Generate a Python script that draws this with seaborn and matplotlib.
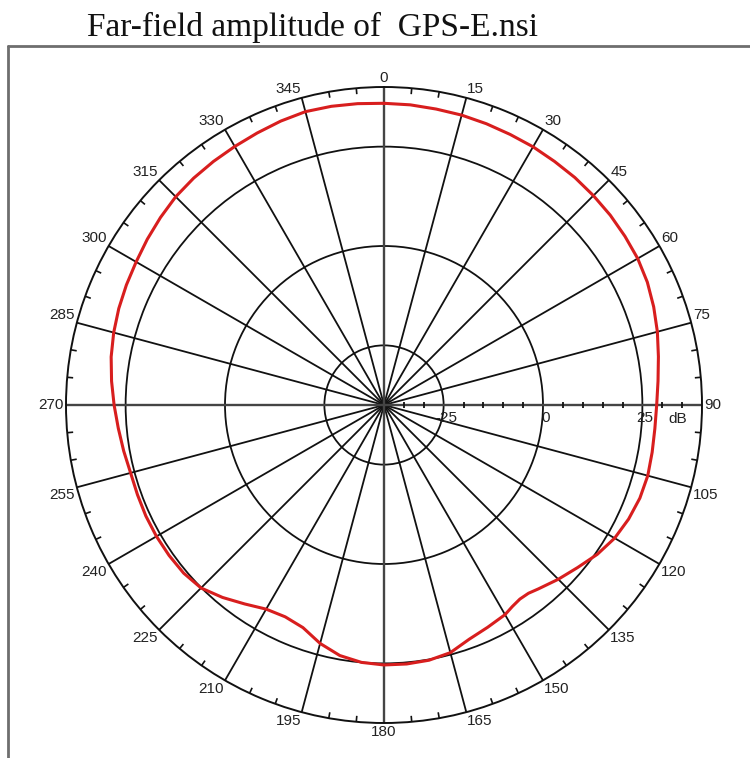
import numpy as np
import pandas as pd
import matplotlib
matplotlib.use("Agg")
import matplotlib.pyplot as plt
from matplotlib.lines import Line2D
import seaborn as sns

# Far-field amplitude (dB) versus azimuth angle (deg, clockwise from top)
angle_deg = [0, 5, 10, 15, 20, 25, 30, 35, 40, 45, 50, 55, 60, 65, 70, 75,
             80, 85, 90, 95, 100, 105, 110, 115, 120, 125, 130, 135, 140,
             142.5, 145, 147.5, 150, 155, 160, 165, 170, 175, 180, 185, 190,
             195, 200, 205, 210, 215, 220, 225, 230, 235, 240, 245, 250, 255,
             260, 265, 270, 275, 280, 285, 290, 295, 300, 305, 310, 315, 320,
             325, 330, 335, 340, 345, 350, 355, 360]
amplitude_db = [35.9, 35.8, 35.6, 35.5, 35.3, 35.1, 35.0, 34.8, 34.7, 34.5,
                34.3, 34.0, 33.7, 33.1, 32.2, 31.2, 30.1, 29.2, 28.6, 28.4,
                28.5, 28.7, 28.5, 27.9, 27.0, 25.5, 23.6, 22.0, 20.4,
                19.7, 19.6, 20.1, 20.9, 21.7, 22.7, 24.5, 25.2, 25.4, 25.4,
                25.0, 24.0, 22.1, 19.6, 18.8, 19.3, 21.1, 23.2, 25.1, 25.8,
                26.0, 26.1, 26.1, 26.0, 26.0, 26.5, 27.1, 27.9, 28.8, 29.7,
                30.4, 31.0, 31.5, 32.0, 32.7, 33.4, 34.1, 34.5, 34.8, 35.1,
                35.5, 36.0, 36.4, 36.3, 36.1, 35.9]

# Axis scales and labels
r_min, r_max = -40, 40
ring_levels = [-25, 0, 25]
ring_labels = ["-25", "0", "25"]
spoke_angles = list(range(0, 360, 15))
spoke_labels = [str(a) for a in spoke_angles]
minor_angles = [a for a in range(0, 360, 5) if a % 15 != 0]
radial_ticks = [v for v in range(-35, 40, 5) if v not in ring_levels]
title_text = "Far-field amplitude of  GPS-E.nsi"

sns.set_style("white")
plt.rcParams["font.family"] = ["Liberation Sans", "DejaVu Sans"]

W, H = 750, 758
fig = plt.figure(figsize=(W / 100, H / 100), dpi=100)

cx, cy, R = 384, 405, 318
ax = fig.add_axes([(cx - R) / W, (H - cy - R) / H, 2 * R / W, 2 * R / H],
                  projection="polar")
ax.set_theta_zero_location("N")
ax.set_theta_direction(-1)
ax.set_ylim(r_min, r_max)
ax.set_facecolor("white")

# Grid: spokes every 15 degrees, rings at the dB levels
ax.set_thetagrids(spoke_angles, labels=[])
ax.set_rgrids(ring_levels, labels=[])
ax.grid(True, color="#111111", linewidth=1.3)
ax.spines["polar"].set_color("#111111")
ax.spines["polar"].set_linewidth(1.4)
ax.tick_params(axis="both", length=0)

# Main axes through the centre
for a in (0, 90, 180, 270):
    ax.plot([np.deg2rad(a)] * 2, [r_min, r_max], color="#444444", lw=1.7,
            zorder=2)

# Minor angle ticks on the outer ring, pointing inward
ax.vlines(np.deg2rad(minor_angles), r_max - 1.5, r_max, color="#111111",
          lw=1.2)

# Minor dB ticks along the 90 degree axis
ax.plot(np.full(len(radial_ticks), np.pi / 2), radial_ticks, ls="none",
        marker="|", ms=4.5, mew=1.3, color="#111111")

# Angle labels just outside the outer ring
for a, lab in zip(spoke_angles, spoke_labels):
    s, c = np.sin(np.deg2rad(a)), np.cos(np.deg2rad(a))
    ha = "left" if s > 0.1 else ("right" if s < -0.1 else "center")
    va = "bottom" if c > 0.1 else ("top" if c < -0.1 else "center")
    ax.annotate(lab, (np.deg2rad(a), r_max), xytext=(1.5 * s, 1.5 * c),
                textcoords="offset points", ha=ha, va=va, fontsize=11,
                color="#222222", annotation_clip=False)

# dB scale labels below the 90 degree axis
for v, lab in zip(ring_levels, ring_labels):
    ax.annotate(lab, (np.pi / 2, v), xytext=(2, -4), textcoords="offset points",
                ha="center", va="top", fontsize=11, color="#222222")
ax.annotate("dB", (np.pi / 2, 34), xytext=(0, -5), textcoords="offset points",
            ha="center", va="top", fontsize=11, color="#222222")

# Radiation pattern
df = pd.DataFrame({"theta": np.deg2rad(angle_deg), "amp": amplitude_db})
sns.lineplot(data=df, x="theta", y="amp", ax=ax, sort=False,
             color="#d81e1e", lw=2.2, zorder=5)
ax.set_xlabel("")
ax.set_ylabel("")

# Frame and title
fig.add_artist(Line2D([8 / W, 1], [1 - 46 / H, 1 - 46 / H], color="#6e6e6e",
                      lw=2.0))
fig.add_artist(Line2D([8 / W, 8 / W], [0, 1 - 46 / H], color="#6e6e6e",
                      lw=2.0))
fig.text(87 / W, 1 - 36 / H, title_text, family=["Liberation Serif"],
         fontsize=24, color="#111111", ha="left", va="baseline")

fig.savefig("out.png", dpi=100, facecolor="white")
